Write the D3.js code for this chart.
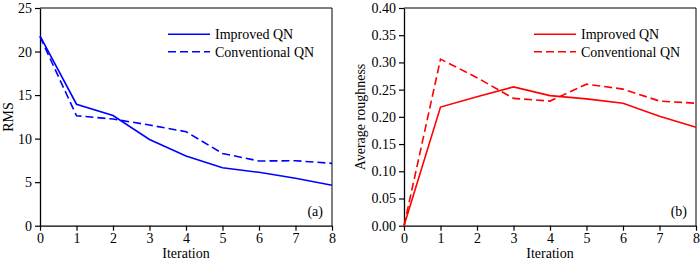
<!DOCTYPE html>
<html>
<head>
<meta charset="utf-8">
<script src="https://cdn.jsdelivr.net/npm/d3@7"></script>
<style>
  body { margin: 0; background: #fff; }
  svg text { font-family: "Liberation Serif", "Times New Roman", serif; }
</style>
</head>
<body>
<div id="general"></div>
<script>
const W = 700, H = 261;

const iterations = [0, 1, 2, 3, 4, 5, 6, 7, 8];
const rmsImproved = [21.8, 13.95, 12.65, 9.9, 8.0, 6.66, 6.13, 5.44, 4.64];
const rmsConventional = [21.7, 12.63, 12.25, 11.56, 10.8, 8.3, 7.43, 7.46, 7.16];
const roughImproved = [0.0, 0.218, 0.237, 0.255, 0.239, 0.233, 0.225, 0.201, 0.181];
const roughConventional = [0.0, 0.306, 0.272, 0.234, 0.229, 0.260, 0.251, 0.229, 0.225];
const seriesNames = ["Improved QN", "Conventional QN"];
const rmsTicks = [0, 5, 10, 15, 20, 25];
const roughTicks = [0, 0.05, 0.10, 0.15, 0.20, 0.25, 0.30, 0.35, 0.40];

const svg = d3.select("#general").append("svg")
  .attr("width", W).attr("height", H);

function panel(opt) {
  const x = d3.scaleLinear().domain([0, 8]).range([opt.left, opt.right]);
  const y = d3.scaleLinear().domain(opt.yDomain).range([225.7, 8]);
  const g = svg.append("g");

  // frame top/right
  g.append("path")
    .attr("d", `M${opt.left},8H${opt.right}V225.7`)
    .attr("fill", "none").attr("stroke", "#000").attr("stroke-width", 1);

  const xa = g.append("g").attr("transform", "translate(0,225.7)")
    .call(d3.axisBottom(x).tickValues(iterations).tickSize(5).tickSizeOuter(0).tickPadding(2));
  const ya = g.append("g").attr("transform", `translate(${opt.left},0)`)
    .call(d3.axisLeft(y).tickValues(opt.ticks).tickFormat(opt.fmt).tickSize(5).tickSizeOuter(0).tickPadding(3));
  [xa, ya].forEach(a => {
    a.selectAll("text").attr("font-size", 14).attr("fill", "#000")
      .style("font-family", "'Liberation Serif', serif");
    a.select(".domain").attr("stroke-width", 1.3);
    a.selectAll(".tick line").attr("stroke-width", 1.2);
  });

  g.append("text")
    .attr("x", (opt.left + opt.right) / 2).attr("y", 258)
    .attr("text-anchor", "middle").attr("font-size", 14)
    .text("Iteration");
  g.append("text")
    .attr("transform", `translate(${opt.titleX},117) rotate(-90)`)
    .attr("text-anchor", "middle").attr("font-size", 14)
    .text(opt.title);

  const line = d3.line().x((d, i) => x(iterations[i])).y(d => y(d));
  g.append("path").datum(opt.a)
    .attr("d", line).attr("fill", "none")
    .attr("stroke", opt.color).attr("stroke-width", 1.6);
  g.append("path").datum(opt.b)
    .attr("d", line).attr("fill", "none")
    .attr("stroke", opt.color).attr("stroke-width", 1.6)
    .attr("stroke-dasharray", "8,4");

  // legend
  seriesNames.forEach((name, i) => {
    const ly = 34.3 + i * 17.4;
    g.append("line")
      .attr("x1", opt.legX).attr("x2", opt.legX + 42)
      .attr("y1", ly).attr("y2", ly)
      .attr("stroke", opt.color).attr("stroke-width", 1.6)
      .attr("stroke-dasharray", i === 1 ? "8,4" : null);
    g.append("text")
      .attr("x", opt.legX + 47).attr("y", ly + 5)
      .attr("font-size", 14)
      .text(name);
  });

  g.append("text")
    .attr("x", opt.right - 9).attr("y", 216)
    .attr("text-anchor", "end").attr("font-size", 14)
    .text(opt.tag);
}

panel({
  left: 40, right: 332, yDomain: [0, 25], ticks: rmsTicks,
  fmt: d3.format("d"), title: "RMS", titleX: 13,
  a: rmsImproved, b: rmsConventional, color: "#0000ff",
  legX: 168, tag: "(a)"
});

panel({
  left: 404, right: 696, yDomain: [0, 0.4], ticks: roughTicks,
  fmt: d3.format(".2f"), title: "Average roughness", titleX: 365,
  a: roughImproved, b: roughConventional, color: "#ff0000",
  legX: 534, tag: "(b)"
});
</script>
</body>
</html>
